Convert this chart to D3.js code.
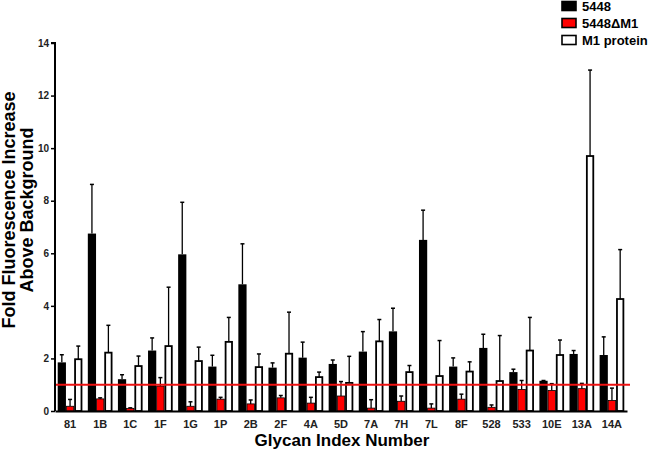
<!DOCTYPE html>
<html lang="en">
<head>
<meta charset="UTF-8">
<title>Glycan binding</title>
<script src="https://d3js.org/d3.v7.min.js"></script>
<style>
  body { margin: 0; background: #fff; }
  text { font-family: Arial, "Liberation Sans", sans-serif; font-weight: bold; }
</style>
</head>
<body>
<script>
// categories and series
var glycans = ['81','1B','1C','1F','1G','1P','2B','2F','4A','5D','7A','7H','7L','8F','528','533','10E','13A','14A'];
var seriesNames = ['5448', '5448\u0394M1', 'M1 protein'];

// means
var wt    = [1.85, 6.75, 1.21, 2.30, 5.96, 1.69, 4.82, 1.65, 2.03, 1.79, 2.26, 3.03, 6.51, 1.69, 2.40, 1.48, 1.15, 2.17, 2.13];
var delta = [0.18, 0.46, 0.10, 0.95, 0.18, 0.45, 0.27, 0.50, 0.30, 0.57, 0.11, 0.37, 0.11, 0.45, 0.14, 0.82, 0.78, 0.85, 0.40];
var m1    = [1.97, 2.22, 1.71, 2.47, 1.90, 2.63, 1.67, 2.18, 1.29, 1.07, 2.65, 1.48, 1.33, 1.50, 1.14, 2.30, 2.13, 9.70, 4.26];
// upper end of error bars
var wtErr    = [2.14, 8.62, 1.38, 2.78, 7.94, 2.12, 6.36, 1.83, 2.62, 1.94, 3.02, 3.91, 7.64, 2.02, 2.92, 1.59, 1.16, 2.30, 2.82];
var deltaErr = [0.44, 0.50, 0.12, 1.27, 0.35, 0.52, 0.42, 0.59, 0.52, 1.12, 0.43, 0.57, 0.27, 0.64, 0.23, 1.16, 1.04, 1.05, 0.87];
var m1Err    = [2.47, 3.26, 2.09, 4.71, 2.43, 3.56, 2.17, 3.76, 1.48, 2.08, 3.48, 1.73, 2.68, 1.87, 2.87, 3.56, 2.70, 12.97, 6.14];

var yTicks = [0, 2, 4, 6, 8, 10, 12, 14];
var threshold = 1;

var width = 650, height = 451;
var margin = {left: 55, right: 23, top: 43, bottom: 40};

var svg = d3.select('body').append('svg').attr('width', width).attr('height', height);

var x0 = d3.scaleBand().domain(glycans).range([margin.left, width - margin.right]);
var x1 = d3.scaleBand().domain([0, 1, 2]).range([0, x0.bandwidth()]).paddingOuter(0.33);
var y = d3.scaleLinear().domain([0, 14]).range([height - margin.bottom, margin.top]);

var means = [wt, delta, m1];
var errs = [wtErr, deltaErr, m1Err];
var fills = ['#000', '#ff0000', '#fff'];
var strokes = ['#000', '#000', '#000'];
var strokeW = [0, 0.8, 1.8];

var rows = [];
glycans.forEach(function (g, i) {
    for (var s = 0; s < 3; s++) {
        rows.push({g: g, s: s, v: means[s][i], e: errs[s][i]});
    }
});

// error bars (drawn first, bars sit on top)
var eb = svg.append('g').selectAll('g').data(rows).join('g');
eb.append('line')
    .attr('x1', function (d) { return x0(d.g) + x1(d.s) + x1.bandwidth() / 2; })
    .attr('x2', function (d) { return x0(d.g) + x1(d.s) + x1.bandwidth() / 2; })
    .attr('y1', function (d) { return y(d.v); })
    .attr('y2', function (d) { return y(d.e); })
    .attr('stroke', '#000').attr('stroke-width', 1.3);
eb.append('line')
    .attr('x1', function (d) { return x0(d.g) + x1(d.s) + x1.bandwidth() / 2 - 2; })
    .attr('x2', function (d) { return x0(d.g) + x1(d.s) + x1.bandwidth() / 2 + 2; })
    .attr('y1', function (d) { return y(d.e); })
    .attr('y2', function (d) { return y(d.e); })
    .attr('stroke', '#000').attr('stroke-width', 1.5);

svg.append('g').selectAll('rect').data(rows).join('rect')
    .attr('x', function (d) { return x0(d.g) + x1(d.s) + strokeW[d.s] / 2; })
    .attr('width', function (d) { return x1.bandwidth() - strokeW[d.s]; })
    .attr('y', function (d) { return y(d.v); })
    .attr('height', function (d) { return y(0) - y(d.v); })
    .attr('fill', function (d) { return fills[d.s]; })
    .attr('stroke', function (d) { return strokes[d.s]; })
    .attr('stroke-width', function (d) { return strokeW[d.s]; });

// threshold line
svg.append('line')
    .attr('x1', margin.left).attr('x2', width - margin.right + 3)
    .attr('y1', y(threshold)).attr('y2', y(threshold))
    .attr('stroke', '#ee1111').attr('stroke-width', 2);

// y axis
var yAxis = svg.append('g')
    .attr('transform', 'translate(' + margin.left + ',0)')
    .call(d3.axisLeft(y).tickValues(yTicks).tickSize(4).tickPadding(2));
yAxis.select('.domain').attr('stroke-width', 2).attr('d', 'M-4,' + y(14) + 'H0V' + y(0));
yAxis.selectAll('.tick line').attr('stroke-width', 1.5);
yAxis.selectAll('text').style('font-size', '10px').attr('fill', '#222');

// x axis
var xAxis = svg.append('g')
    .attr('transform', 'translate(0,' + y(0) + ')')
    .call(d3.axisBottom(x0).tickSize(0).tickPadding(9));
xAxis.select('.domain').attr('stroke-width', 2);
xAxis.selectAll('text').style('font-size', '11px').attr('fill', '#222');

// axis titles
svg.append('text')
    .attr('x', 342).attr('y', 446)
    .attr('text-anchor', 'middle')
    .style('font-size', '17px')
    .text('Glycan Index Number');

var yl = svg.append('text')
    .attr('transform', 'translate(15,210) rotate(-90)')
    .attr('text-anchor', 'middle')
    .style('font-size', '18px');
yl.append('tspan').attr('x', 0).attr('dy', 0).text('Fold Fluorescence Increase');
yl.append('tspan').attr('x', 0).attr('dy', 18).text('Above Background');

// legend
var legend = svg.append('g').attr('transform', 'translate(561,1)')
    .selectAll('g').data(seriesNames).join('g')
    .attr('transform', function (d, i) { return 'translate(0,' + i * 17 + ')'; });
legend.append('rect')
    .attr('x', 1).attr('y', 0.5).attr('width', 14).attr('height', 9)
    .attr('fill', function (d, i) { return fills[i]; })
    .attr('stroke', '#000').attr('stroke-width', 1.6);
legend.append('text')
    .attr('x', 21).attr('y', 10)
    .style('font-size', '13px')
    .text(function (d) { return d; });
</script>
</body>
</html>
